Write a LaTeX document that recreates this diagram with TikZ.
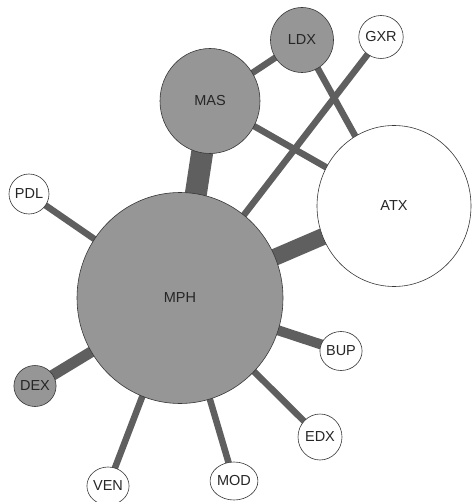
\documentclass[tikz,border=0pt]{standalone}
\usepackage{fontspec}
\setmainfont{Liberation Sans}
\usetikzlibrary{shapes.geometric,backgrounds}
\definecolor{nodegray}{RGB}{150,150,150}
\definecolor{edgegray}{RGB}{95,95,95}
\definecolor{rimgray}{RGB}{55,55,55}
\begin{document}
\begin{tikzpicture}[x=1pt,y=-1pt,
  bubble/.style={ellipse, draw=rimgray, line width=0.6pt, inner sep=0pt,
    font=\fontsize{14.5}{16}\selectfont, text=black!85},
  dark/.style={bubble, fill=nodegray},
  light/.style={bubble, fill=white},
  link/.style={draw=edgegray, line width=#1}]
\useasboundingbox (0,0) rectangle (471,502);
\node[dark,  minimum width=206pt, minimum height=211pt] (MPH) at (180,298) {MPH};
\node[light, minimum width=154pt, minimum height=161pt] (ATX) at (394,206) {ATX};
\node[dark,  minimum width=100pt, minimum height=105pt] (MAS) at (210,101) {MAS};
\node[dark,  minimum width=63pt,  minimum height=65pt]  (LDX) at (302,40)  {LDX};
\node[light, minimum width=43pt,  minimum height=43pt]  (GXR) at (381,37)  {GXR};
\node[light, minimum width=40pt,  minimum height=40pt]  (PDL) at (29,194)  {PDL};
\node[dark,  minimum width=40pt,  minimum height=41pt]  (DEX) at (35,386)  {DEX};
\node[light, minimum width=39pt,  minimum height=39pt]  (BUP) at (341,351) {BUP};
\node[light, minimum width=44pt,  minimum height=46pt]  (EDX) at (320,437) {EDX};
\node[light, minimum width=38pt,  minimum height=38pt]  (MOD) at (234,481) {MOD};
\node[light, minimum width=37pt,  minimum height=38pt]  (VEN) at (108,486) {VEN};
\begin{scope}[on background layer]
\draw[link=22pt]  (MPH.center) -- (MAS.center);
\draw[link=17pt]  (MPH.center) -- (ATX.center);
\draw[link=11pt]  (MPH.center) -- (DEX.center);
\draw[link=10pt]  (MPH.center) -- (BUP.center);
\draw[link=6.5pt] (MPH.center) -- (GXR.center);
\draw[link=6.5pt] (MPH.center) -- (PDL.center);
\draw[link=6.5pt] (MPH.center) -- (VEN.center);
\draw[link=6.5pt] (MPH.center) -- (MOD.center);
\draw[link=6.5pt] (MPH.center) -- (EDX.center);
\draw[link=6.5pt] (MAS.center) -- (LDX.center);
\draw[link=6.5pt] (MAS.center) -- (ATX.center);
\draw[link=6.5pt] (LDX.center) -- (ATX.center);
\end{scope}
\end{tikzpicture}
\end{document}
